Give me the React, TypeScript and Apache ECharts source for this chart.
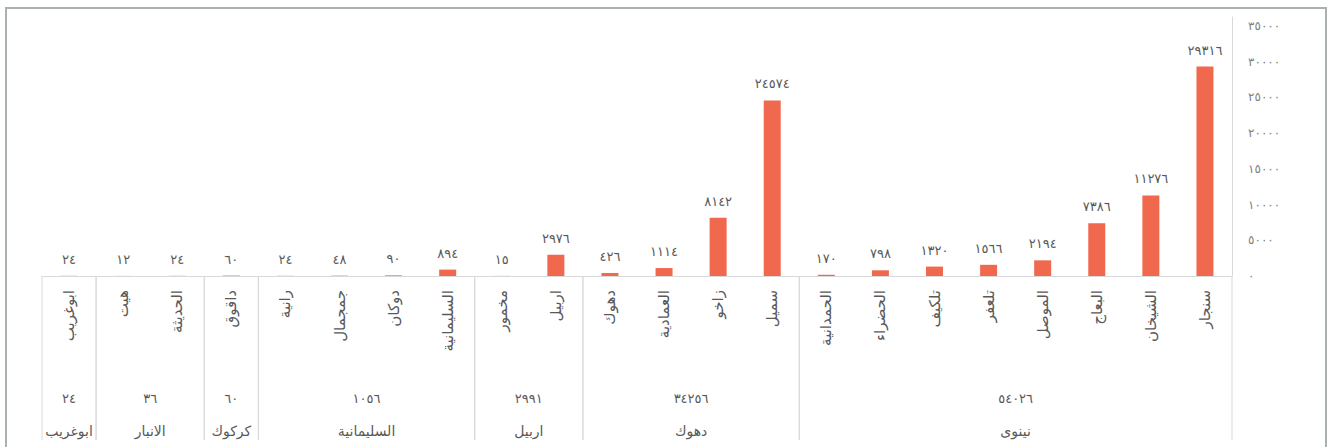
import React, { useEffect, useRef } from "react";
import * as echarts from "echarts";

const categories = [
  "ابوغريب", "هيت", "الحديثة", "داقوق", "رانية", "جمجمال", "دوكان", "السليمانية",
  "مخمور", "اربيل", "دهوك", "العمادية", "زاخو", "سميل",
  "الحمدانية", "الحضراء", "تلكيف", "تلعفر", "الموصل", "البعاج", "الشيخان", "سنجار",
];
const values = [
  24, 12, 24, 60, 24, 48, 90, 894,
  15, 2976, 426, 1114, 8142, 24574,
  170, 798, 1320, 1566, 2194, 7386, 11276, 29316,
];
const groupNames = ["ابوغريب", "الانبار", "كركوك", "السليمانية", "اربيل", "دهوك", "نينوى"];
const groupStart = [0, 1, 3, 4, 8, 10, 14];
const groupEnd = [0, 2, 3, 7, 9, 13, 21];
const groupTotals = [24, 36, 60, 1056, 2991, 34256, 54026];

const AR = "٠١٢٣٤٥٦٧٨٩";
const toAr = (n: number | string) => String(n).replace(/\d/g, (d) => AR[Number(d)]);

const FONT = "DejaVu Sans";
const TEXT = "#595959";
const LINE = "#d9d9d9";

export default function App() {
  const ref = useRef<HTMLDivElement>(null);
  useEffect(() => {
    if (!ref.current) return;
    const chart = echarts.init(ref.current, null, { renderer: "svg" });
    const groupData = groupStart.map((s, i) => [s, groupEnd[i], 0]);
    chart.setOption({
      animation: false,
      backgroundColor: "#ffffff",
      textStyle: { fontFamily: FONT },
      graphic: [
        {
          type: "rect",
          shape: { x: 6, y: 8, width: 1320, height: 460 },
          style: { fill: "none", stroke: "#a9b1b1", lineWidth: 2 },
          silent: true,
        },
      ],
      grid: { left: 42, right: 98, top: 17, bottom: 171, containLabel: false },
      xAxis: {
        type: "category",
        data: categories,
        axisLine: { lineStyle: { color: LINE, width: 1 } },
        axisTick: { show: false },
        axisLabel: {
          rotate: 90,
          margin: 14,
          color: TEXT,
          fontSize: 15,
          fontFamily: FONT,
          interval: 0,
        },
      },
      yAxis: {
        type: "value",
        position: "right",
        min: 0,
        max: 36260,
        interval: 5000,
        splitLine: { show: false },
        axisTick: { show: false },
        axisLine: { show: true, lineStyle: { color: LINE } },
        axisLabel: {
          showMaxLabel: false,
          margin: 16,
          color: "#7f7f7f",
          fontSize: 12,
          fontFamily: FONT,
          formatter: (v: number) => toAr(v),
        },
      },
      series: [
        {
          type: "bar",
          data: values,
          barWidth: 17,
          itemStyle: { color: "#f0694f" },
          label: {
            show: true,
            position: "top",
            distance: 10,
            color: TEXT,
            fontSize: 13,
            fontFamily: FONT,
            formatter: (p: any) => toAr(p.value),
          },
        },
        {
          type: "custom",
          clip: false,
          silent: true,
          encode: { x: 0, y: 2 },
          data: groupData,
          renderItem: (params: any, api: any) => {
            const i = params.dataIndex;
            const c0 = api.coord([api.value(0), 0]);
            const c1 = api.coord([api.value(1), 0]);
            const bw = api.size([1, 0])[0];
            const left = c0[0] - bw / 2;
            const right = c1[0] + bw / 2;
            const y0 = c0[1];
            const cx = (left + right) / 2;
            return {
              type: "group",
              children: [
                {
                  type: "line",
                  shape: { x1: left, y1: y0, x2: left, y2: y0 + 164 },
                  style: { stroke: LINE, lineWidth: 1 },
                },
                {
                  type: "line",
                  shape: { x1: right, y1: y0, x2: right, y2: y0 + 164 },
                  style: { stroke: LINE, lineWidth: 1 },
                },
                {
                  type: "text",
                  style: {
                    text: toAr(groupTotals[i]),
                    x: cx,
                    y: y0 + 122,
                    align: "center",
                    verticalAlign: "middle",
                    fill: TEXT,
                    fontSize: 13,
                    fontFamily: FONT,
                  },
                },
                {
                  type: "text",
                  style: {
                    text: groupNames[i],
                    x: cx,
                    y: y0 + 155,
                    align: "center",
                    verticalAlign: "middle",
                    fill: TEXT,
                    fontSize: 14,
                    fontFamily: FONT,
                  },
                },
              ],
            };
          },
        },
      ],
    });
    return () => chart.dispose();
  }, []);
  return (
    <div
      ref={ref}
      style={{ position: "fixed", left: 0, top: 0, width: 1330, height: 447 }}
    />
  );
}
